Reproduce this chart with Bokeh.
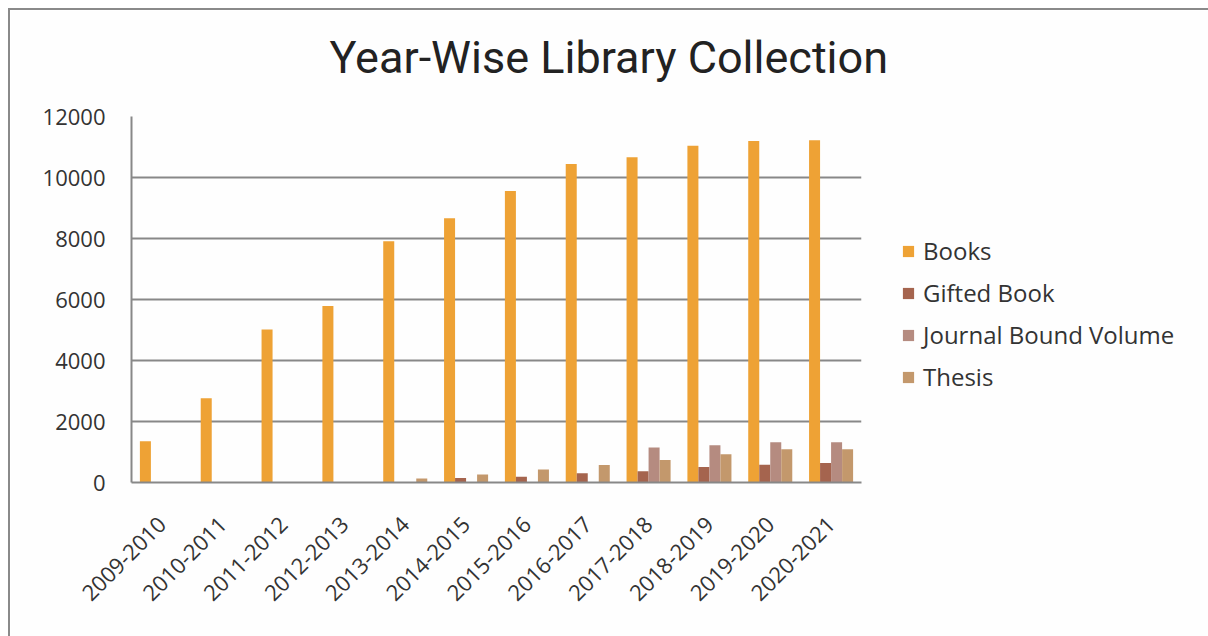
import math
from bokeh.plotting import figure
from bokeh.models import ColumnDataSource, Legend, LegendItem, Title, FixedTicker
from bokeh.transform import dodge
from bokeh.embed import file_html
from bokeh.resources import INLINE

years = ["2009-2010", "2010-2011", "2011-2012", "2012-2013", "2013-2014", "2014-2015",
         "2015-2016", "2016-2017", "2017-2018", "2018-2019", "2019-2020", "2020-2021"]
books = [1350, 2760, 5020, 5790, 7910, 8660, 9560, 10440, 10660, 11040, 11200, 11220]
gifted = [0, 0, 0, 0, 0, 150, 190, 300, 370, 510, 580, 640]
journal = [0, 0, 0, 0, 0, 0, 0, 0, 1150, 1220, 1320, 1320]
thesis = [0, 0, 0, 0, 130, 260, 430, 570, 740, 930, 1090, 1090]
series_names = ["Books", "Gifted Book", "Journal Bound Volume", "Thesis"]
y_ticks = [0, 2000, 4000, 6000, 8000, 10000, 12000]

colors = ["#EEA235", "#A5644E", "#B58B80", "#C3986C"]

src = ColumnDataSource(dict(years=years, books=books, gifted=gifted,
                            journal=journal, thesis=thesis))

p = figure(x_range=years, y_range=(0, 12000), frame_width=730, frame_height=366,
           output_backend="svg", toolbar_location=None, title=None,
           min_border_left=121, min_border_right=347,
           min_border_top=106, min_border_bottom=154)
p.title_location = None
p.styles = {"border-left": "2px solid #8a8a8a", "border-top": "2px solid #8a8a8a",
            "margin-left": "8px", "margin-top": "8px"}
p.background_fill_color = "#fefefe"
p.border_fill_color = "#fefefe"
p.outline_line_color = None

spacer = Title(text=" ", text_font_size="20px", standoff=4)
p.add_layout(spacer, "above")
main_title = Title(text="Year-Wise Library Collection", align="left", offset=198,
                   text_font_size="45px", text_font="Roboto",
                   text_font_style="normal", text_color="#222222", standoff=10)
p.add_layout(main_title, "above")

bw = 0.181
offs = [-1.5 * bw, -0.5 * bw, 0.5 * bw, 1.5 * bw]
keys = ["books", "gifted", "journal", "thesis"]
renderers = []
for k, o, c in zip(keys, offs, colors):
    r = p.vbar(x=dodge("years", o, range=p.x_range), top=k, width=bw,
               source=src, fill_color=c, line_color=None)
    renderers.append(r)

p.xgrid.grid_line_color = None
p.ygrid.grid_line_color = "#888888"
p.ygrid.grid_line_width = 2
p.yaxis.ticker = FixedTicker(ticks=y_ticks)

for ax in (p.xaxis[0], p.yaxis[0]):
    ax.axis_line_color = "#888888"
    ax.axis_line_width = 2
    ax.major_tick_line_color = None
    ax.minor_tick_line_color = None
    ax.major_tick_out = 0
    ax.major_label_text_font = "Open Sans"
    ax.major_label_text_font_size = "22px"
    ax.major_label_text_color = "#333333"

p.yaxis.major_label_standoff = 26
p.xaxis.major_label_orientation = math.pi / 4
p.xaxis.major_label_standoff = 38

items = [LegendItem(label=n, renderers=[r]) for n, r in zip(series_names, renderers)]
legend = Legend(items=items, location="left", glyph_width=14, glyph_height=14,
                label_text_font="Open Sans", label_text_font_size="24px",
                label_text_color="#333333", spacing=9, label_standoff=8,
                title=" ", title_text_font_size="22px", title_standoff=3,
                border_line_color=None, background_fill_alpha=0,
                padding=0, margin=40)
p.add_layout(legend, "right")

open("out.html", "w").write(file_html(p, INLINE))
